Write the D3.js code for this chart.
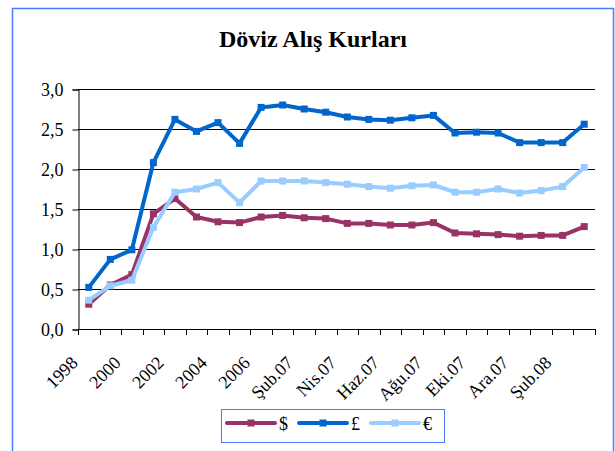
<!DOCTYPE html>
<html>
<head>
<meta charset="utf-8">
<script src="https://cdn.jsdelivr.net/npm/d3@7"></script>
<style>
  body { margin: 0; background: #fff; }
  svg text { font-family: "Times New Roman", "Liberation Serif", Tinos, serif; }
</style>
</head>
<body>
<div id="chart"></div>
<script>
var categories = ["1998", "1999", "2000", "2001", "2002", "2003", "2004", "2005", "2006",
  "Oca.07", "Şub.07", "Mar.07", "Nis.07", "May.07", "Haz.07", "Tem.07", "Ağu.07",
  "Eyl.07", "Eki.07", "Kas.07", "Ara.07", "Oca.08", "Şub.08", "Mar.08"];

var usd = [0.31, 0.55, 0.68, 1.44, 1.63, 1.40, 1.34, 1.33, 1.40, 1.42, 1.39, 1.38,
  1.32, 1.32, 1.30, 1.30, 1.33, 1.20, 1.19, 1.18, 1.16, 1.17, 1.17, 1.28];
var gbp = [0.52, 0.87, 0.99, 2.08, 2.62, 2.47, 2.58, 2.32, 2.77, 2.80, 2.75, 2.71,
  2.65, 2.62, 2.61, 2.64, 2.67, 2.45, 2.46, 2.45, 2.33, 2.33, 2.33, 2.56];
var eur = [0.36, 0.54, 0.61, 1.27, 1.71, 1.75, 1.83, 1.58, 1.85, 1.85, 1.85, 1.83,
  1.81, 1.78, 1.76, 1.79, 1.80, 1.71, 1.71, 1.75, 1.70, 1.73, 1.78, 2.02];

var seriesNames = ["$", "£", "€"];
var yTicks = [0, 0.5, 1.0, 1.5, 2.0, 2.5, 3.0];

var serif = "'Times New Roman', 'Liberation Serif', serif";

function drawChart() {
  var series = [
    { name: seriesNames[0], values: usd, color: "#993366" },
    { name: seriesNames[1], values: gbp, color: "#0066cc" },
    { name: seriesNames[2], values: eur, color: "#99ccff" }
  ];

  var width = 615, height = 451;
  var plotLeft = 78, plotRight = 595, plotTop = 89, plotBottom = 329;

  var svg = d3.select("#chart").append("svg")
    .attr("width", width)
    .attr("height", height);

  // outer frame
  svg.append("rect")
    .attr("x", 12.5).attr("y", 8.5)
    .attr("width", 601).attr("height", 460)
    .attr("fill", "none")
    .attr("stroke", "#4a7bff")
    .attr("stroke-width", 1.5);

  svg.append("text")
    .attr("x", 313).attr("y", 47)
    .attr("text-anchor", "middle")
    .style("font-family", serif)
    .style("font-size", "24px")
    .style("font-weight", "bold")
    .text("Döviz Alış Kurları");

  var x = d3.scaleBand().domain(categories).range([plotLeft, plotRight]).padding(0);
  var y = d3.scaleLinear().domain([0, 3]).range([plotBottom, plotTop]);

  // grid lines
  svg.append("g")
    .selectAll("line")
    .data(yTicks.filter(function (d) { return d > 0; }))
    .enter()
    .append("line")
    .attr("x1", plotLeft).attr("x2", plotRight)
    .attr("y1", function (d) { return Math.round(y(d)) + 0.5; })
    .attr("y2", function (d) { return Math.round(y(d)) + 0.5; })
    .attr("stroke", "#000")
    .attr("stroke-width", 1);

  // y axis
  var yAxis = svg.append("g")
    .attr("transform", "translate(" + (plotLeft + 0.5) + ",0.5)")
    .call(d3.axisLeft(y).tickValues(yTicks).tickSize(6).tickPadding(9)
      .tickFormat(function (d) { return d3.format(".1f")(d).replace(".", ","); }));
  yAxis.attr("font-family", null);
  yAxis.select(".domain").attr("stroke", "#000");
  yAxis.selectAll("text")
    .style("font-size", "18px")
    .style("font-family", serif)
    .attr("fill", "#000");

  // x axis
  var xg = svg.append("g");
  xg.append("line")
    .attr("x1", plotLeft).attr("x2", plotRight)
    .attr("y1", plotBottom + 0.5).attr("y2", plotBottom + 0.5)
    .attr("stroke", "#000");
  xg.selectAll(".tick")
    .data(d3.range(categories.length + 1))
    .enter()
    .append("line")
    .attr("x1", function (i) { return Math.round(plotLeft + i * x.bandwidth()) + 0.5; })
    .attr("x2", function (i) { return Math.round(plotLeft + i * x.bandwidth()) + 0.5; })
    .attr("y1", plotBottom).attr("y2", plotBottom + 6)
    .attr("stroke", "#000");
  xg.selectAll(".lbl")
    .data(categories.filter(function (d, i) { return i % 2 === 0; }))
    .enter()
    .append("text")
    .attr("text-anchor", "end")
    .attr("transform", function (d) {
      return "translate(" + (x(d) + x.bandwidth() / 2 - 10) + "," + (plotBottom + 35) + ")rotate(-45)";
    })
    .style("font-family", serif)
    .style("font-size", "18px")
    .text(function (d) { return d; });

  // lines
  var line = d3.line()
    .x(function (d, i) { return x(categories[i]) + x.bandwidth() / 2; })
    .y(function (d) { return y(d); });

  series.forEach(function (s) {
    svg.append("path")
      .datum(s.values)
      .attr("fill", "none")
      .attr("stroke", s.color)
      .attr("stroke-width", 4)
      .attr("stroke-linejoin", "round")
      .attr("d", line);
    svg.append("g")
      .selectAll("rect")
      .data(s.values)
      .enter()
      .append("rect")
      .attr("x", function (d, i) { return x(categories[i]) + x.bandwidth() / 2 - 3.5; })
      .attr("y", function (d) { return y(d) - 3.5; })
      .attr("width", 7).attr("height", 7)
      .attr("fill", s.color);
  });

  // legend
  var legend = svg.append("g");
  legend.append("rect")
    .attr("x", 221.5).attr("y", 409.5)
    .attr("width", 223).attr("height", 33)
    .attr("fill", "#fff")
    .attr("stroke", "#4a7bff")
    .attr("stroke-width", 1);
  series.forEach(function (s, i) {
    var lx = 227 + i * 72;
    legend.append("line")
      .attr("x1", lx).attr("x2", lx + 48)
      .attr("y1", 423).attr("y2", 423)
      .attr("stroke", s.color)
      .attr("stroke-width", 4)
      .attr("stroke-linecap", "round");
    legend.append("rect")
      .attr("x", lx + 20.5).attr("y", 419.5)
      .attr("width", 7).attr("height", 7)
      .attr("fill", s.color);
    legend.append("text")
      .attr("x", lx + 52).attr("y", 430)
      .style("font-family", serif)
      .style("font-size", "18px")
      .text(s.name);
  });
}

drawChart();
</script>
</body>
</html>
